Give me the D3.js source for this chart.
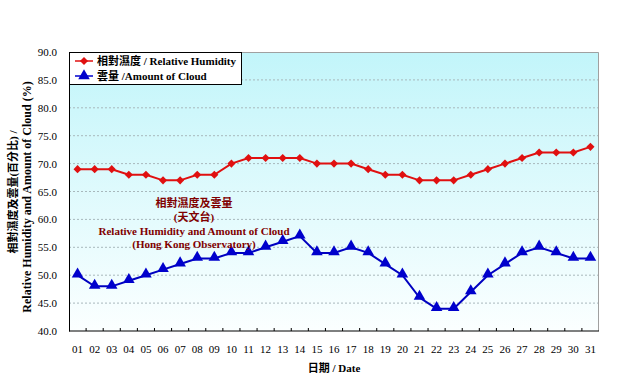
<!DOCTYPE html>
<html>
<head>
<meta charset="utf-8">
<script src="https://cdn.jsdelivr.net/npm/d3@7"></script>
<style>
  body { margin: 0; background: #fff; }
  svg text { font-family: "Liberation Serif", "Times New Roman", "Noto Sans CJK TC", serif; }
</style>
</head>
<body>
<div id="chart"></div>
<script>
const days = d3.range(1, 32).map(d => String(d).padStart(2, '0'));
const humidity = [69, 69, 69, 68, 68, 67, 67, 68, 68, 70, 71, 71, 71, 71, 70, 70,
  70, 69, 68, 68, 67, 67, 67, 68, 69, 70, 71, 72, 72, 72, 73];
const cloud = [50, 48, 48, 49, 50, 51, 52, 53, 53, 54, 54, 55, 56, 57, 54, 54,
  55, 54, 52, 50, 46, 44, 44, 47, 50, 52, 54, 55, 54, 53, 53];
const yTicks = d3.range(40, 90.1, 5);

const W = 635, H = 390;
const m = { top: 52, right: 36, bottom: 59, left: 69 };
const innerW = W - m.left - m.right;
const innerH = H - m.top - m.bottom;

const svg = d3.select('#chart').append('svg')
  .attr('width', W).attr('height', H);

const defs = svg.append('defs');
const grad = defs.append('linearGradient')
  .attr('id', 'bg').attr('x1', 0).attr('y1', 0).attr('x2', 0).attr('y2', 1);
grad.append('stop').attr('offset', '0%').attr('stop-color', '#c2f5fa');
grad.append('stop').attr('offset', '100%').attr('stop-color', '#fbffff');

const g = svg.append('g').attr('transform', `translate(${m.left},${m.top})`);

const x = d3.scaleBand().domain(days).range([0, innerW]);
const y = d3.scaleLinear().domain([40, 90]).range([innerH, 0]);
const cx = d => x(d) + x.bandwidth() / 2;

g.append('rect').attr('width', innerW).attr('height', innerH).attr('fill', 'url(#bg)');

// grid
g.append('g').selectAll('line').data(yTicks.filter(v => v > 40 && v < 90)).join('line')
  .attr('x1', 0).attr('x2', innerW)
  .attr('y1', d => y(d)).attr('y2', d => y(d))
  .attr('stroke', '#a8b8bc').attr('stroke-dasharray', '2,2').attr('stroke-width', 1);

// top/right border
g.append('path')
  .attr('d', `M0,0.5H${innerW - 0.5}V${innerH}`)
  .attr('fill', 'none').attr('stroke', '#a0a0a0');

// y axis
const yAxis = g.append('g')
  .call(d3.axisLeft(y).tickValues(yTicks).tickFormat(d3.format('.1f')).tickSize(0).tickPadding(12));
yAxis.select('.domain').attr('stroke', '#000');
yAxis.selectAll('text').attr('font-size', 11).attr('fill', '#000');

// x axis
const xAxis = g.append('g').attr('transform', `translate(0,${innerH})`);
xAxis.append('line').attr('x1', 0).attr('x2', innerW).attr('stroke', '#000');
xAxis.selectAll('.tk').data(days.slice(1)).join('line')
  .attr('x1', d => x(d)).attr('x2', d => x(d))
  .attr('y1', 0).attr('y2', -3).attr('stroke', '#000');
xAxis.selectAll('text').data(days).join('text')
  .attr('x', d => cx(d)).attr('y', 22)
  .attr('text-anchor', 'middle').attr('font-size', 11).text(d => d);

// lines
const line = d3.line().x((d, i) => cx(days[i])).y(d => y(d));
g.append('path').datum(humidity).attr('d', line)
  .attr('fill', 'none').attr('stroke', '#e01010').attr('stroke-width', 2);
g.append('path').datum(cloud).attr('d', line)
  .attr('fill', 'none').attr('stroke', '#0000c0').attr('stroke-width', 2);

const diamond = d3.symbol().type(d3.symbolDiamond2).size(42);
const tri = d3.symbol().type(d3.symbolTriangle).size(58);
g.selectAll('.hm').data(humidity).join('path')
  .attr('d', diamond)
  .attr('transform', (d, i) => `translate(${cx(days[i])},${y(d)})`)
  .attr('fill', '#e01010');
g.selectAll('.cm').data(cloud).join('path')
  .attr('d', tri)
  .attr('transform', (d, i) => `translate(${cx(days[i])},${y(d) - 1})`)
  .attr('fill', '#0000cc');

// legend
const lg = g.append('g');
lg.append('rect').attr('x', 0.5).attr('y', 0.5).attr('width', 172).attr('height', 32)
  .attr('fill', '#fff').attr('stroke', '#000');
const legendItems = [
  { label: '相對濕度 / Relative Humidity', color: '#e01010', sym: diamond },
  { label: '雲量 /Amount of Cloud', color: '#0000cc', sym: tri },
];
legendItems.forEach((it, i) => {
  const ly = 9 + i * 15;
  lg.append('line').attr('x1', 6).attr('x2', 24).attr('y1', ly).attr('y2', ly)
    .attr('stroke', it.color).attr('stroke-width', 1.5);
  lg.append('path').attr('d', it.sym).attr('transform', `translate(15,${ly})`).attr('fill', it.color);
  lg.append('text').attr('x', 28).attr('y', ly + 4).attr('font-size', 11)
    .attr('font-weight', 'bold').text(it.label);
});

// annotation
const notes = ['相對濕度及雲量', '(天文台)', 'Relative Humidity and Amount of Cloud', '(Hong Kong Observatory)'];
g.append('g').selectAll('text').data(notes).join('text')
  .attr('x', 125).attr('y', (d, i) => 155 + i * 13.8)
  .attr('text-anchor', 'middle').attr('font-size', 11).attr('font-weight', 'bold')
  .attr('fill', '#800000').text(d => d);

// axis titles
svg.append('text').attr('transform', 'translate(17,192) rotate(-90)')
  .attr('text-anchor', 'middle').attr('font-size', 11).attr('font-weight', 'bold')
  .text('相對濕度及雲量(百分比) /');
svg.append('text').attr('transform', 'translate(31,197) rotate(-90)')
  .attr('text-anchor', 'middle').attr('font-size', 12).attr('font-weight', 'bold')
  .text('Relative Humidity and Amount of Cloud (%)');
svg.append('text').attr('x', m.left + innerW / 2).attr('y', 372)
  .attr('text-anchor', 'middle').attr('font-size', 11).attr('font-weight', 'bold')
  .text('日期 / Date');
</script>
</body>
</html>
